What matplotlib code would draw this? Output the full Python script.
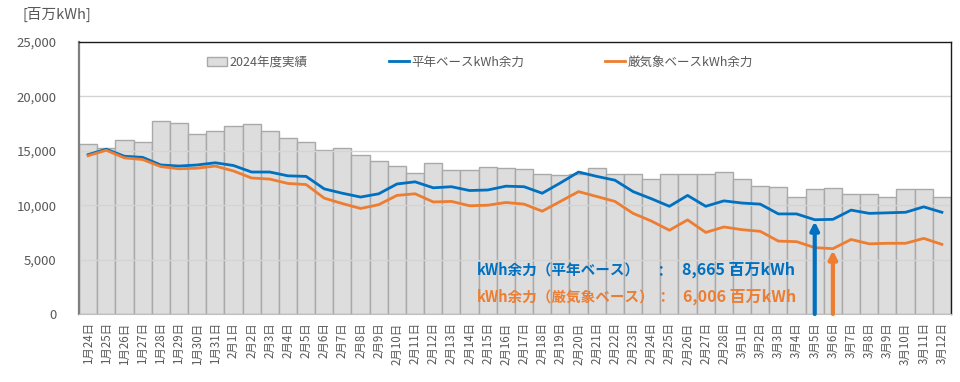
import matplotlib
matplotlib.use("Agg")
import matplotlib.pyplot as plt
import numpy as np

plt.rcParams['font.family'] = ['Noto Sans CJK JP', 'DejaVu Sans']

# ------------------------------------------------------------
# Data (百万kWh)
# ------------------------------------------------------------
DATES = ([f"1月{d}日" for d in range(24, 32)]
         + [f"2月{d}日" for d in range(1, 29)]
         + [f"3月{d}日" for d in range(1, 13)])

ACTUAL_2024 = [
    15600, 15300, 15950, 15850, 17700, 17600, 16550, 16850,
    17250, 17450, 16850, 16150, 15850, 15100, 15250, 14650,
    14100, 13650, 13000, 13850, 13200, 13200, 13550, 13400,
    13300, 12850, 12800, 12850, 13400, 12900, 12900, 12400,
    12900, 12850, 12850, 13050, 12400, 11750, 11650, 10750,
    11500, 11550, 11050, 11000, 10800, 11450, 11500, 10800,
]

NORMAL = [
    14650, 15150, 14500, 14400, 13700, 13600, 13700, 13900,
    13650, 13050, 13050, 12700, 12650, 11500, 11100, 10750,
    11050, 11950, 12150, 11600, 11700, 11350, 11400, 11750,
    11700, 11100, 12050, 13050, 12650, 12300, 11250, 10600,
    9900, 10900, 9900, 10400, 10200, 10100, 9200, 9200,
    8665, 8700, 9550, 9250, 9300, 9350, 9850, 9350,
]

SEVERE = [
    14550, 15050, 14350, 14200, 13550, 13350, 13400, 13600,
    13150, 12500, 12400, 12000, 11900, 10650, 10150, 9700,
    10050, 10900, 11050, 10300, 10350, 9950, 10000, 10250,
    10100, 9450, 10350, 11250, 10800, 10350, 9250, 8550,
    7700, 8650, 7500, 8000, 7750, 7600, 6700, 6650,
    6100, 6006, 6850, 6450, 6500, 6500, 6950, 6400,
]

MIN_NORMAL_IDX = 40   # 3月5日
MIN_SEVERE_IDX = 41   # 3月6日

# ------------------------------------------------------------
# Style
# ------------------------------------------------------------
BLUE = "#0070C0"
ORANGE = "#ED7D31"
BAR = "#DDDDDD"
BAR_EDGE = "#A9A9A9"
INK = "#595959"
GRID = "#D4D4D4"

fig = plt.figure(figsize=(9.6, 3.82), dpi=100)
ax = fig.add_axes([0.0823, 0.178, 0.9083, 0.712])

xs = np.arange(len(DATES))
bars = ax.bar(xs, ACTUAL_2024, width=1.0, color=BAR, edgecolor=BAR_EDGE,
              linewidth=1.0, label="2024年度実績", zorder=1)
l1, = ax.plot(xs, NORMAL, color=BLUE, lw=2.0, label="平年ベースkWh余力", zorder=4)
l2, = ax.plot(xs, SEVERE, color=ORANGE, lw=2.0, label="厳気象ベースkWh余力", zorder=4)

ax.set_xlim(-0.5, len(DATES) - 0.5)
ax.set_ylim(0, 25000)
ax.set_yticks(np.arange(0, 25001, 5000))
ax.set_yticklabels([f"{v:,}" for v in range(0, 25001, 5000)], fontsize=9.5, color=INK)
ax.set_xticks(xs)
ax.set_xticklabels(DATES, rotation=90, fontsize=8.3, color=INK)
ax.tick_params(length=0, pad=6)
ax.tick_params(axis="y", pad=16)

for y in range(5000, 25000, 5000):
    ax.axhline(y, color=GRID, lw=1.0, zorder=2)

ax.spines["top"].set_color("#1a1a1a")
ax.spines["right"].set_color("#1a1a1a")
ax.spines["left"].set_color("#7f7f7f")
ax.spines["left"].set_linewidth(1.6)
ax.spines["bottom"].set_color("#BFBFBF")
for s in ("top", "right"):
    ax.spines[s].set_linewidth(1.0)

fig.text(0.023, 0.963, "[百万kWh]", fontsize=10.5, color=INK, va="center", ha="left")

leg = ax.legend([bars, l1, l2], ["2024年度実績", "平年ベースkWh余力", "厳気象ベースkWh余力"],
                loc="center", bbox_to_anchor=(0.46, 0.926), ncol=3, frameon=False,
                fontsize=9, labelcolor=INK, columnspacing=6.5, handlelength=1.6,
                handletextpad=0.2)

# Minimum annotations
FS_LABEL = 10.5
FS_VALUE = 11.5
Y_BLUE, Y_ORANGE = 0.163, 0.064
ax.text(0.4565, Y_BLUE, "kWh余力（平年ベース）", transform=ax.transAxes,
        color=BLUE, fontsize=FS_LABEL, fontweight="bold", va="center")
ax.text(0.4565, Y_ORANGE, "kWh余力（厳気象ベース）", transform=ax.transAxes,
        color=ORANGE, fontsize=FS_LABEL, fontweight="bold", va="center")
ax.text(0.667, Y_BLUE, "：", transform=ax.transAxes, color=BLUE, ha="center",
        fontsize=FS_LABEL, fontweight="bold", va="center")
ax.text(0.669, Y_ORANGE, "：", transform=ax.transAxes, color=ORANGE, ha="center",
        fontsize=FS_LABEL, fontweight="bold", va="center")
ax.text(0.691, Y_BLUE, f"{NORMAL[MIN_NORMAL_IDX]:,} 百万kWh", transform=ax.transAxes,
        color=BLUE, fontsize=FS_VALUE, fontweight="bold", va="center")
ax.text(0.693, Y_ORANGE, f"{SEVERE[MIN_SEVERE_IDX]:,} 百万kWh", transform=ax.transAxes,
        color=ORANGE, fontsize=FS_VALUE, fontweight="bold", va="center")

for idx, vals, c in ((MIN_NORMAL_IDX, NORMAL, BLUE), (MIN_SEVERE_IDX, SEVERE, ORANGE)):
    ax.annotate("", xy=(idx, vals[idx] - 150), xytext=(idx, 0),
                arrowprops=dict(arrowstyle="-|>", color=c, lw=3, mutation_scale=12,
                                shrinkA=0, shrinkB=0), zorder=5)

fig.savefig("out.png", dpi=100, facecolor="white")
